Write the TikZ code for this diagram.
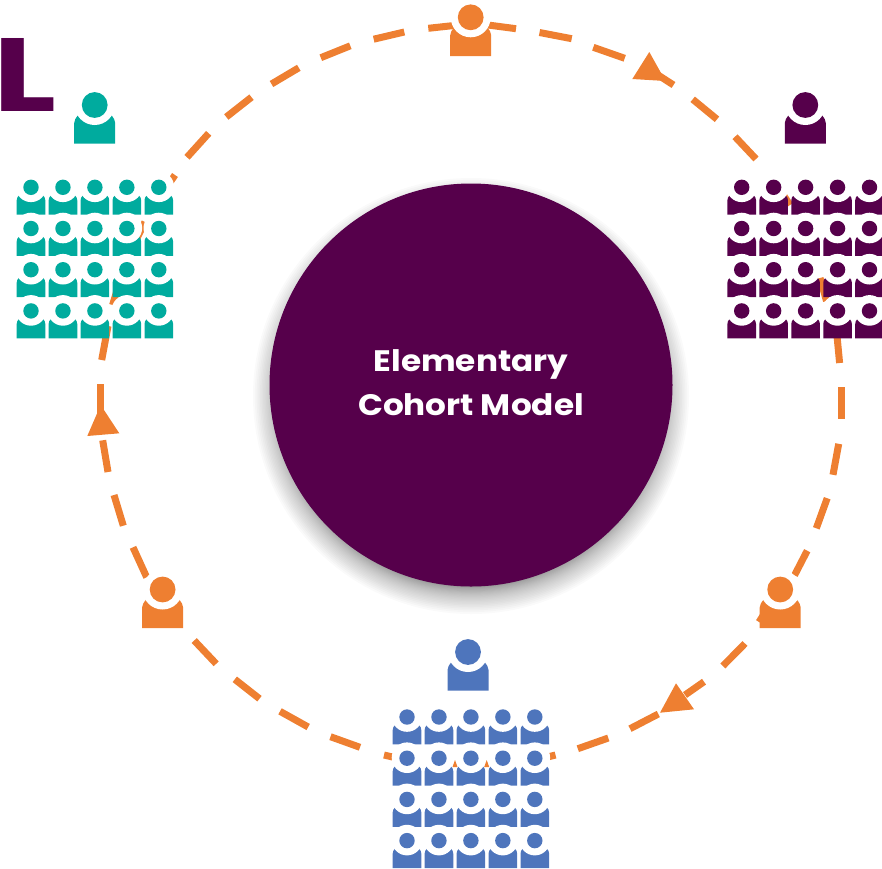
\documentclass[tikz,border=0pt]{standalone}
\usepackage{fontspec}
\setmainfont{Poppins}
\definecolor{plum}{RGB}{86,0,75}
\definecolor{tealc}{RGB}{0,171,158}
\definecolor{bluec}{RGB}{78,117,188}
\definecolor{orangec}{RGB}{238,127,49}
\tikzset{
  ringdash/.style={draw=orangec,line width=7pt,line cap=butt},
  arrowfill/.style={fill=orangec},
  smallperson/.pic={
    \fill[pic actions] (-14.3,27.4) -- (-14.3,13) .. controls (-14.3,11) and (-13.5,9.5) .. (-12,8) -- (12,8) .. controls (13.5,9.5) and (14.3,11) .. (14.3,13) -- (14.3,27.4) -- cycle;
    \fill[white] (0,-0.5) circle[radius=15.3pt];
    \fill[pic actions] (0,0) circle[radius=7.7pt];
  },
  bigperson/.pic={
    \fill[pic actions] (-20.5,38.7) -- (-20.5,18) .. controls (-20.5,15.5) and (-19,13) .. (-16.5,10) -- (16.5,10) .. controls (19,13) and (20.5,15.5) .. (20.5,18) -- (20.5,38.7) -- cycle;
    \fill[white] (0,0) circle[radius=20pt];
    \fill[pic actions] (0,0) circle[radius=12.9pt];
  }
}
\newcommand{\persongrid}[3]{% x of first column, y of first row, colour
  \foreach \r in {0,1,2,3}
    \foreach \c in {0,1,2,3,4}
      \pic[fill=#3] at ({#1+31.95*\c},{#2+41.2*\r}) {smallperson};
}
\begin{document}
\begin{tikzpicture}[x=1pt,y=-1pt]
\useasboundingbox (0,0) rectangle (882,868);
\clip (0,0) rectangle (882,868);
% ring dashes, clockwise from the top
\foreach \a/\b/\c/\d in {
  488/25/516/28.7, 539.5/32.5/571.7/38.7, 593.3/47.3/624.7/58.3, 658/75/673.5/85,
  692.7/99.3/717/119.3, 735/136.7/756/159,
  772/178/790/205, 820/278/826.5/301, 837/336/839.6/363,
  841/387/841/419, 838.7/443.8/833/474.8, 827.2/498.2/816.3/528.3, 807.2/550.7/794.5/575.3,
  773/600/759/622, 745/643.5/722.8/666, 704/681.7/685/695, 658.3/714/630/728.7,
  608.3/738/577.8/748.7, 555.5/755/524/763,
  418/763/384/755, 360/747.3/330.5/736.7, 308.2/727/280/711.3, 259.5/698.7/234.8/679.3,
  216.2/663.8/194.2/640.5, 146.7/577.3/133/547.3, 123.3/525.7/114/495, 108/472/102.7/440.3,
  100/413/100/384, 101.7/360/108/326, 112.6/305/122.6/272.3, 130/252/145/222,
  156/203/175/175, 187/157.3/208.7/133.3, 226.3/117/251.5/97.2, 271.5/84/298.8/67.8,
  320.8/57.7/350.3/45.8, 373.7/39.2/404.3/32, 428.3/28.3/454/25.5}
  \draw[ringdash] (\a,\b) -- (\c,\d);
% arrow heads
\fill[arrowfill] (649.3,52) -- (632.3,79) -- (665.5,81) -- cycle;
\fill[arrowfill] (660,712.7) -- (694,709.3) -- (676,683.3) -- cycle;
\fill[arrowfill] (100.7,405) -- (87.3,436) -- (119.3,433.3) -- cycle;
% central disc with its soft shadow
\foreach \q in {0,...,29}
  \fill[black,opacity=0.018] (471,396) circle[radius={190+28*(1-\q/30)*(1-\q/30)}];
\fill[plum] (471,385) circle[radius=201.5pt];
\node[white,font=\bfseries\fontsize{29.6}{44}\selectfont,align=center,inner sep=0pt,anchor=center,xscale=1.105,transform shape] (title) at (471,382.5) {Elementary\\Cohort Model};
% corner letter
\node[plum,font=\bfseries\fontsize{104}{104}\selectfont,anchor=base west,inner sep=0pt,xscale=1.27,transform shape] (letter) at (1,111.7) {\kern-6pt L};
% people
\persongrid{31}{187.3}{tealc}
\persongrid{741.7}{187.3}{plum}
\persongrid{407}{717}{bluec}
\pic[fill=tealc] at (94.7,105) {bigperson};
\pic[fill=plum] at (805.3,105) {bigperson};
\pic[fill=bluec] at (468,652) {bigperson};
\pic[fill=orangec] at (470.7,17.3) {bigperson};
\pic[fill=orangec] at (780.2,589.5) {bigperson};
\pic[fill=orangec] at (162.6,589.5) {bigperson};
% slivers of the ring showing between the blue figures
\fill[orangec] (455,760) -- (452.5,767) -- (457.5,767) -- cycle;
\fill[orangec] (486.7,760) -- (484.2,767) -- (489.2,767) -- cycle;
\end{tikzpicture}
\end{document}
